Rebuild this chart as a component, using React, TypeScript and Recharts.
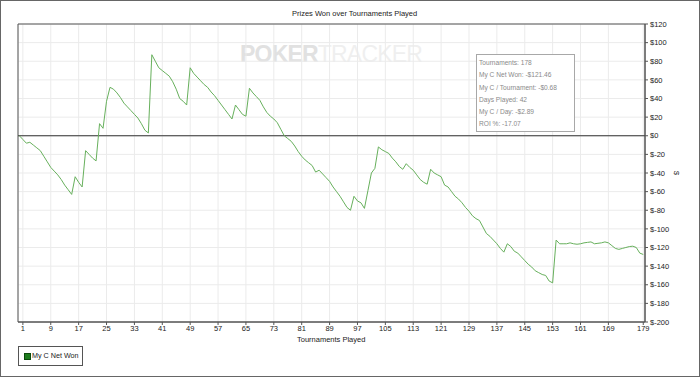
import { LineChart, Line, XAxis, YAxis, CartesianGrid, ReferenceLine, ReferenceArea } from 'recharts';

// cumulative net won after each tournament (index = tournaments played)
const netWon = [
  0, -4, -8, -7, -10, -13, -16, -22, -28, -34,
  -38, -42, -47, -53, -58, -63, -44, -50, -55, -16,
  -20, -24, -27, 13, 8, 37, 52, 50, 46, 41,
  35, 31, 27, 23, 19, 13, 6, 3, 87, 80,
  73, 70, 67, 64, 58, 50, 40, 37, 33, 73,
  67, 63, 59, 55, 52, 47, 43, 38, 33, 28,
  23, 18, 33, 28, 23, 21, 51, 46, 42, 38,
  31, 25, 21, 18, 14, 7, 0, -3, -6, -11,
  -17, -22, -26, -29, -32, -39, -37, -41, -45, -49,
  -55, -60, -65, -71, -77, -80, -65, -70, -72, -78,
  -59, -40, -35, -12, -15, -17, -19, -24, -28, -33,
  -36, -30, -34, -37, -42, -47, -50, -52, -36, -40,
  -42, -44, -53, -55, -60, -65, -68, -72, -77, -81,
  -86, -89, -91, -98, -105, -108, -112, -116, -121, -125,
  -116, -119, -124, -126, -130, -134, -138, -141, -145, -147,
  -149, -150, -156, -158, -112, -116, -116, -116, -115, -116,
  -116.5, -116, -115, -114.5, -114, -116, -115.5, -115, -114, -115,
  -118, -121, -122, -121, -120, -119, -118.6, -120, -126, -127.5,
];

const tournamentTicks = [1, 9, 17, 25, 33, 41, 49, 57, 65, 73, 81, 89, 97, 105, 113, 121, 129, 137, 145, 153, 161, 169, 179];
const dollarTicks = [120, 100, 80, 60, 40, 20, 0, -20, -40, -60, -80, -100, -120, -140, -160, -180, -200];

const statLines = [
  'Tournaments: 178',
  'My C Net Won: -$121.46',
  'My C / Tournament: -$0.68',
  'Days Played: 42',
  'My C / Day: -$2.89',
  'ROI %: -17.07',
];

const rows = netWon.map((won, i) => ({ t: i, won }));

const FONT = '"Liberation Sans", Arial, sans-serif';
const X_DOMAIN: [number, number] = [-0.4, 179.5];

const abs = (left: number, top: number, extra: React.CSSProperties = {}): React.CSSProperties => ({
  position: 'absolute',
  left,
  top,
  fontFamily: FONT,
  whiteSpace: 'nowrap',
  ...extra,
});

export default function App() {
  return (
    <div style={{ position: 'absolute', left: 0, top: 0, width: 700, height: 377, background: '#fff', overflow: 'hidden' }}>
      {/* watermark sits behind the grid */}
      <div style={abs(240, 39, { fontSize: 23, lineHeight: '30px', letterSpacing: -0.8 })}>
        <span style={{ color: '#e1e1e1', fontWeight: 700 }}>POKER</span>
        <span style={{ color: '#efefef' }}>TRACKER</span>
      </div>

      <div style={{ position: 'absolute', left: 0, top: 0 }}>
        <LineChart width={700} height={377} data={rows} margin={{ top: 24, right: 0, bottom: 35, left: 18 }}>
          <CartesianGrid stroke="#ebebeb" />
          <XAxis
            dataKey="t"
            type="number"
            domain={X_DOMAIN}
            ticks={tournamentTicks}
            interval={0}
            height={20}
            stroke="#555"
            tickSize={3}
            tickMargin={1}
            tick={{ fontSize: 7.5, fill: '#222', fontFamily: FONT }}
          />
          <YAxis
            orientation="right"
            type="number"
            domain={[-200, 120]}
            ticks={dollarTicks}
            interval={0}
            width={55}
            stroke="#555"
            tickSize={3}
            tickMargin={2}
            tick={{ fontSize: 7.5, fill: '#222', fontFamily: FONT }}
            tickFormatter={(v: number) => `$${v}`}
          />
          <ReferenceArea x1={X_DOMAIN[0]} x2={X_DOMAIN[1]} y1={-200} y2={120} fill="none" stroke="#555" strokeWidth={1} />
          <ReferenceLine y={0} stroke="#333" strokeWidth={1} />
          <Line type="linear" dataKey="won" stroke="#67b05c" strokeWidth={1} dot={false} isAnimationActive={false} />
        </LineChart>
      </div>

      <div style={abs(292, 9, { fontSize: 7.5, lineHeight: '10px', color: '#222' })}>Prizes Won over Tournaments Played</div>
      <div style={abs(297, 335, { fontSize: 7.5, lineHeight: '10px', color: '#222' })}>Tournaments Played</div>
      <div style={abs(674, 168, { fontSize: 7.5, lineHeight: '10px', color: '#222', transform: 'rotate(90deg)' })}>$</div>

      <div
        style={abs(476, 54, {
          width: 99,
          height: 78,
          border: '1px solid #a8a8a8',
          background: '#fff',
          boxSizing: 'border-box',
          padding: '2px 0 0 2px',
        })}
      >
        {statLines.map((s) => (
          <div key={s} style={{ fontSize: 6.6, lineHeight: '12.3px', color: '#8a8a8a' }}>{s}</div>
        ))}
      </div>

      <div
        style={abs(18, 346, {
          width: 65,
          height: 20,
          border: '1px solid #555',
          boxSizing: 'border-box',
        })}
      >
        <div style={{ position: 'absolute', left: 5, top: 6, width: 5, height: 5, background: '#1e7d1e', border: '0.5px solid #0c4a0c' }} />
        <div style={{ position: 'absolute', left: 13, top: 4, fontSize: 7.2, lineHeight: '10px', color: '#222' }}>My C Net Won</div>
      </div>

      <div style={{ position: 'absolute', left: 0, top: 0, width: 700, height: 377, border: '1px solid #666', boxSizing: 'border-box', pointerEvents: 'none' }} />
    </div>
  );
}
